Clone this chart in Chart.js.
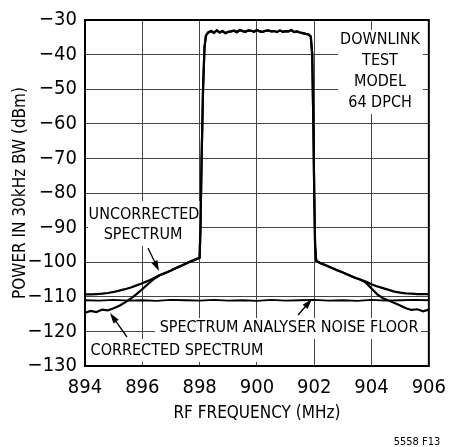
<!DOCTYPE html>
<html>
<head>
<meta charset="utf-8">
<script src="https://cdn.jsdelivr.net/npm/chart.js@4.4.1/dist/chart.umd.min.js"></script>
<style>
  html, body { margin: 0; padding: 0; background: #fff; }
  #wrap { width: 456px; height: 447px; position: relative; }
</style>
</head>
<body>
<div id="wrap"><canvas id="myChart" width="456" height="447"></canvas></div>
<script>
'use strict';

// frequency (MHz) and power (dBm)
let freqLeft = [894.0, 894.2, 894.4, 894.6, 894.8, 895.0, 895.2, 895.4, 895.6, 895.8, 896.0, 896.2, 896.4, 896.6, 896.8, 897.0, 897.2, 897.4, 897.6, 897.8, 898.0];
let uncorrectedLeft = [-109.3, -109.3, -109.2, -109.1, -108.9, -108.6, -108.2, -107.8, -107.3, -106.7, -106.1, -105.4, -104.6, -103.8, -103.1, -102.4, -101.6, -100.9, -100.1, -99.4, -98.7];
let correctedLeft = [-114.6, -114.1, -114.4, -113.7, -113.9, -113.3, -112.6, -111.6, -110.5, -109.2, -107.8, -106.3, -104.9, -103.8, -103.1, -102.4, -101.6, -100.9, -100.1, -99.4, -98.7];

let freqTop = [898.03, 898.07, 898.12, 898.17, 898.22, 898.3, 898.4, 898.5, 898.6, 898.7, 898.8, 898.9, 899.0, 899.1, 899.2, 899.3, 899.4, 899.5, 899.6, 899.7, 899.8, 899.9, 900.0, 900.1, 900.2, 900.3, 900.4, 900.5, 900.6, 900.7, 900.8, 900.9, 901.0, 901.1, 901.2, 901.3, 901.4, 901.5, 901.6, 901.7, 901.8, 901.88, 901.93, 901.97, 902.0, 902.03];
let powerTop = [-90, -70, -50, -38, -34.5, -33.6, -33.2, -33.7, -33.0, -33.6, -33.2, -33.8, -33.4, -33.3, -33.1, -33.5, -32.9, -33.2, -33.4, -33.0, -33.1, -33.4, -32.9, -33.3, -33.4, -33.1, -33.0, -33.3, -33.2, -33.5, -33.0, -33.4, -33.2, -33.3, -32.9, -33.5, -33.3, -33.6, -33.8, -34.0, -34.2, -34.8, -40, -60, -80, -95];

let freqRight = [902.07, 902.2, 902.4, 902.6, 902.8, 903.0, 903.2, 903.4, 903.6, 903.8, 904.0, 904.2, 904.4, 904.6, 904.8, 905.0, 905.2, 905.4, 905.6, 905.8, 906.0];
let uncorrectedRight = [-99.6, -100.2, -100.9, -101.6, -102.3, -103.0, -103.7, -104.4, -105.0, -105.6, -106.4, -107.0, -107.5, -108.0, -108.5, -108.8, -109.0, -109.1, -109.2, -109.2, -109.2];
let correctedRight = [-99.6, -100.2, -100.9, -101.6, -102.3, -103.0, -103.7, -104.4, -105.0, -105.9, -107.6, -109.3, -110.4, -111.1, -111.8, -112.5, -113.3, -113.8, -113.6, -114.2, -113.7];

let noiseFreq = [894.0, 894.5, 895.0, 895.5, 896.0, 896.5, 897.0, 897.5, 898.0, 898.5, 899.0, 899.5, 900.0, 900.5, 901.0, 901.5, 902.0, 902.5, 903.0, 903.5, 904.0, 904.5, 905.0, 905.5, 906.0];
let noisePower = [-111.0, -111.1, -110.9, -111.1, -111.0, -111.2, -110.9, -111.0, -111.1, -110.9, -111.1, -111.0, -111.2, -110.9, -111.1, -111.0, -110.9, -111.1, -111.0, -111.2, -110.9, -111.1, -111.0, -110.9, -111.0];

let xTicks = [894, 896, 898, 900, 902, 904, 906];
let yTicks = [-130, -120, -110, -100, -90, -80, -70, -60, -50, -40, -30];

const FONT = "'Liberation Sans Narrow', 'DejaVu Sans Condensed', 'Arial Narrow', sans-serif";

function toPoints(xs, ys) {
  let pts = [];
  for (let i = 0; i < xs.length; i++) {
    pts.push({ x: xs[i], y: ys[i] });
  }
  return pts;
}

let uncorrectedPts = toPoints(freqLeft, uncorrectedLeft).concat(toPoints(freqTop, powerTop), toPoints(freqRight, uncorrectedRight));
let correctedPts = toPoints(freqLeft, correctedLeft).concat(toPoints(freqTop, powerTop), toPoints(freqRight, correctedRight));
let noisePts = toPoints(noiseFreq, noisePower);

// white label boxes, labels and arrows drawn over the grid
function arrow(ctx, x1, y1, x2, y2) {
  let ang = Math.atan2(y2 - y1, x2 - x1);
  ctx.beginPath();
  ctx.moveTo(x1, y1);
  ctx.lineTo(x2 - 6 * Math.cos(ang), y2 - 6 * Math.sin(ang));
  ctx.lineWidth = 1.3;
  ctx.strokeStyle = '#000';
  ctx.stroke();
  ctx.beginPath();
  ctx.moveTo(x2, y2);
  ctx.lineTo(x2 - 11 * Math.cos(ang - 0.3), y2 - 11 * Math.sin(ang - 0.3));
  ctx.lineTo(x2 - 11 * Math.cos(ang + 0.3), y2 - 11 * Math.sin(ang + 0.3));
  ctx.closePath();
  ctx.fillStyle = '#000';
  ctx.fill();
}

const labelPlugin = {
  id: 'labels',
  beforeDatasetsDraw(chart) {
    let ctx = chart.ctx;
    ctx.save();
    ctx.fillStyle = '#fff';
    ctx.fillRect(338, 30, 85, 84);
    ctx.fillRect(88, 201, 112, 45);
    ctx.fillRect(155, 318, 266, 21);
    ctx.fillRect(88, 339, 178, 23);

    ctx.fillStyle = '#000';
    ctx.font = '16px ' + FONT;
    ctx.textAlign = 'center';
    ctx.textBaseline = 'middle';
    ctx.fillText('DOWNLINK', 380, 40);
    ctx.fillText('TEST', 380, 61);
    ctx.fillText('MODEL', 380, 82);
    ctx.fillText('64 DPCH', 380, 103);
    ctx.fillText('UNCORRECTED', 144, 215);
    ctx.fillText('SPECTRUM', 143, 235);
    ctx.fillText('SPECTRUM ANALYSER NOISE FLOOR', 289, 328);
    ctx.fillText('CORRECTED SPECTRUM', 177, 351);

    arrow(ctx, 148, 248, 159, 271);
    arrow(ctx, 127, 337, 110, 313);
    arrow(ctx, 298, 315, 312, 299);
    ctx.restore();
  },
  afterDatasetsDraw(chart) {
    let a = chart.chartArea;
    let ctx = chart.ctx;
    ctx.save();
    ctx.strokeStyle = '#000';
    ctx.lineWidth = 2;
    ctx.strokeRect(a.left, a.top, a.right - a.left, a.bottom - a.top);
    ctx.fillStyle = '#000';
    ctx.font = '11px ' + FONT;
    ctx.textAlign = 'center';
    ctx.textBaseline = 'middle';
    ctx.fillText('5558 F13', 417, 442);
    ctx.restore();
  }
};

const chartConfig = {
  type: 'scatter',
  data: {
    datasets: [{
      label: 'Uncorrected spectrum',
      data: uncorrectedPts,
      showLine: true,
      borderColor: '#000',
      borderWidth: 2.2,
      pointRadius: 0,
      tension: 0
    },
    {
      label: 'Corrected spectrum',
      data: correctedPts,
      showLine: true,
      borderColor: '#000',
      borderWidth: 2.2,
      pointRadius: 0,
      tension: 0
    },
    {
      label: 'Noise floor',
      data: noisePts,
      showLine: true,
      borderColor: '#000',
      borderWidth: 1.8,
      pointRadius: 0,
      tension: 0
    }]
  },
  options: {
    responsive: false,
    devicePixelRatio: 1,
    animation: false,
    layout: { padding: { top: 14, right: 19, left: 0, bottom: 0 } },
    plugins: { legend: { display: false }, tooltip: { enabled: false } },
    scales: {
      x: {
        type: 'linear',
        min: 894,
        max: 906,
        afterBuildTicks(scale) { scale.ticks = xTicks.map(v => ({ value: v })); },
        afterFit(scale) { scale.height = 81; },
        grid: { color: '#444', lineWidth: 1, drawTicks: false },
        border: { color: '#000', width: 2 },
        ticks: { color: '#000', padding: 10, font: { family: FONT, size: 20 } },
        title: { display: true, text: 'RF FREQUENCY (MHz)', color: '#000', font: { family: FONT, size: 17 }, padding: { top: 8, bottom: 23 } }
      },
      y: {
        min: -130,
        max: -30,
        afterBuildTicks(scale) { scale.ticks = yTicks.map(v => ({ value: v })); },
        afterFit(scale) { scale.width = 85; },
        grid: { color: '#444', lineWidth: 1, drawTicks: false },
        border: { color: '#000', width: 2 },
        ticks: {
          color: '#000',
          padding: 8,
          font: { family: FONT, size: 20 },
          callback: v => (v < 0 ? '\u2212' + Math.abs(v) : String(v))
        },
        title: { display: true, text: 'POWER IN 30kHz BW (dBm)', color: '#000', font: { family: FONT, size: 17 }, padding: { top: 10, bottom: 0 } }
      }
    }
  },
  plugins: [labelPlugin]
};

let canvasChart = document.getElementById('myChart').getContext('2d');
const myChart = new Chart(canvasChart, chartConfig);
</script>
</body>
</html>
